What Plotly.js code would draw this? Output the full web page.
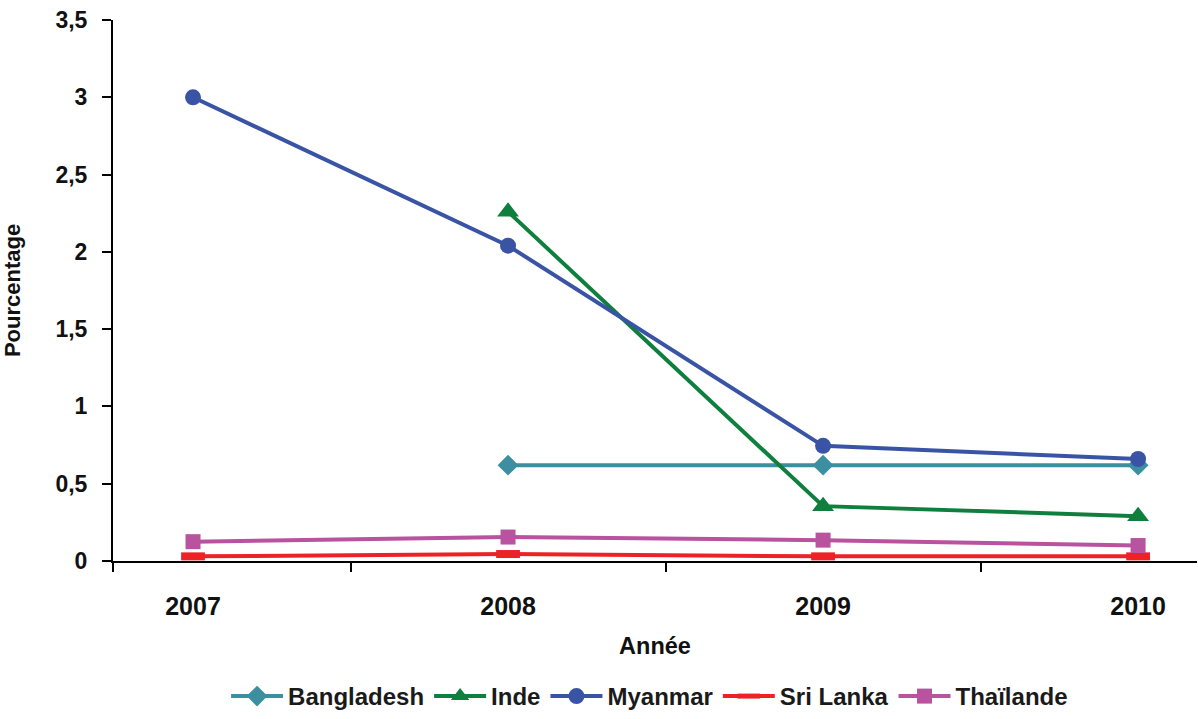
<!DOCTYPE html>
<html>
<head>
<meta charset="utf-8">
<script src="https://cdn.plot.ly/plotly-3.0.1.min.js"></script>
<style>html,body{margin:0;padding:0;background:#fff;}#chart{width:1198px;height:719px;}</style>
</head>
<body>
<div id="chart"></div>
<script>
const years = ['2007', '2008', '2009', '2010'];
const yearIndex = [0, 1, 2, 3];
const bangladesh = [null, 0.62, 0.62, 0.62];
const inde = [null, 2.26, 0.355, 0.29];
const myanmar = [3.0, 2.04, 0.745, 0.66];
const sriLanka = [0.03, 0.045, 0.03, 0.03];
const thailande = [0.125, 0.155, 0.135, 0.10];
const yTicks = [0, 0.5, 1, 1.5, 2, 2.5, 3, 3.5];
const dividerTicks = [-0.254, 0.5, 1.5, 2.5];

const font = 'Liberation Sans, Arial, sans-serif';

function series(name, y, color, marker) {
  return {
    type: 'scatter', mode: 'lines+markers', name: name,
    x: yearIndex, y: y, xaxis: 'x', yaxis: 'y',
    line: {color: color, width: 4},
    marker: Object.assign({color: color}, marker),
    connectgaps: false, cliponaxis: false
  };
}

const data = [
  series('Bangladesh', bangladesh, '#3B8FA1', {symbol: 'diamond', size: 16}),
  series('Inde', inde, '#0F7F3E', {symbol: 'triangle-up', size: 19}),
  series('Myanmar', myanmar, '#3A54A5', {symbol: 'circle', size: 16}),
  series('Sri Lanka', sriLanka, '#ED2226', {symbol: 'line-ew', size: 17, line: {color: '#ED2226', width: 8}}),
  series('Thaïlande', thailande, '#B9529F', {symbol: 'square', size: 15}),
  {type: 'scatter', x: yearIndex, y: [null, null, null, null], xaxis: 'x2', yaxis: 'y', showlegend: false, hoverinfo: 'skip'}
];

const range = [-0.254, 3.187];
const layout = {
  width: 1198, height: 719,
  margin: {l: 113, r: 1, t: 20, b: 158, autoexpand: false},
  paper_bgcolor: '#ffffff', plot_bgcolor: '#ffffff',
  font: {family: font, color: '#000000'},
  separators: ',.',
  showlegend: true,
  legend: {
    orientation: 'h', x: 0.495, xanchor: 'center',
    yref: 'container', y: -0.018, yanchor: 'bottom',
    font: {family: font, size: 24, color: '#1a1a1a', weight: 'bold'},
    itemwidth: 52, tracegroupgap: 0
  },
  xaxis: {
    range: range, showgrid: false, zeroline: false,
    showline: true, linecolor: '#000', linewidth: 2,
    tickmode: 'array', tickvals: dividerTicks, ticktext: ['', '', '', ''],
    ticks: 'outside', ticklen: 9, tickwidth: 2, tickcolor: '#000',
    fixedrange: true
  },
  xaxis2: {
    overlaying: 'x', anchor: 'y', side: 'bottom',
    range: range, showgrid: false, zeroline: false, showline: false,
    tickmode: 'array', tickvals: yearIndex, ticktext: years,
    ticks: 'outside', ticklen: 23, tickcolor: 'rgba(0,0,0,0)',
    tickfont: {family: font, size: 25, color: '#111', weight: 'bold'},
    title: {text: 'Année', standoff: 18, font: {family: font, size: 23.5, color: '#111', weight: 'bold'}},
    fixedrange: true
  },
  yaxis: {
    range: [0, 3.5], showgrid: false, zeroline: false,
    showline: true, linecolor: '#000', linewidth: 2,
    tickmode: 'array', tickvals: yTicks,
    ticks: 'outside', ticklen: 9, tickwidth: 2, tickcolor: '#000',
    ticklabelstandoff: 10,
    tickfont: {family: font, size: 23, color: '#111', weight: 'bold'},
    title: {text: 'Pourcentage', standoff: 30, font: {family: font, size: 22, color: '#111', weight: 'bold'}},
    fixedrange: true
  }
};

Plotly.newPlot('chart', data, layout, {displayModeBar: false, staticPlot: true});
</script>
</body>
</html>
